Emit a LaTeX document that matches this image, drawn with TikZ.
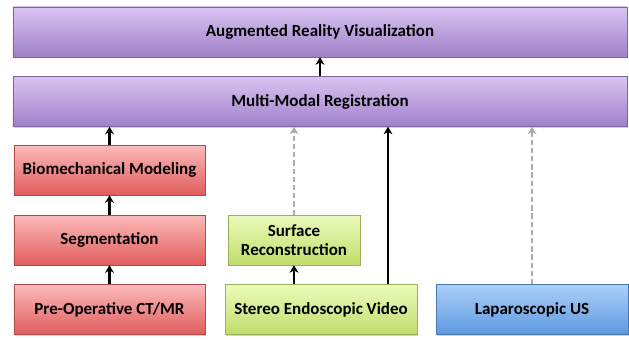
\documentclass[tikz,border=0pt]{standalone}
\usepackage{fontspec}
\setmainfont{Carlito}
\usetikzlibrary{arrows.meta,shadows}
\definecolor{purpTop}{RGB}{216,196,242}
\definecolor{purpBot}{RGB}{160,128,200}
\definecolor{redTop}{RGB}{252,186,186}
\definecolor{redBot}{RGB}{224,92,92}
\definecolor{grnTop}{RGB}{236,250,186}
\definecolor{grnBot}{RGB}{192,222,108}
\definecolor{bluTop}{RGB}{172,208,248}
\definecolor{bluBot}{RGB}{92,152,224}
\begin{document}
\begin{tikzpicture}[x=0.03cm,y=-0.03cm,
    box/.style={rectangle,minimum height=1.5cm,inner sep=2pt,font=\fontsize{14.5}{16}\selectfont\bfseries,
        align=center,drop shadow={shadow xshift=0.6pt,shadow yshift=-1.2pt,opacity=0.35}},
    purpbox/.style={box,top color=purpTop,bottom color=purpBot,draw=purpBot!80!black,line width=0.3pt},
    redbox/.style={box,top color=redTop,bottom color=redBot,draw=redBot!80!black,line width=0.3pt,minimum width=5.73cm},
    grnbox/.style={box,top color=grnTop,bottom color=grnBot,draw=grnBot!80!black,line width=0.3pt},
    blubox/.style={box,top color=bluTop,bottom color=bluBot,draw=bluBot!80!black,line width=0.3pt,minimum width=5.76cm},
    flow/.style={-{Stealth[length=6.5pt,width=7.5pt]},line width=2pt,black},
    flowgray/.style={flow,gray!65,line width=2.3pt,dash pattern=on 4.5pt off 2.5pt}]
\useasboundingbox (0,0) rectangle (629,339);
% top rows
\node[purpbox,minimum width=18.42cm] (arv) at (320,32) {Augmented Reality Visualization};
\node[purpbox,minimum width=18.42cm] (mmr) at (320,101.5) {Multi-Modal Registration};
% pre-operative column
\node[redbox] (bio) at (109.5,170) {Biomechanical Modeling};
\node[redbox] (seg) at (109.5,240) {Segmentation};
\node[redbox] (ctmr) at (109.5,309.5) {Pre-Operative CT/MR};
% intra-operative
\node[grnbox,minimum width=3.96cm] (surf) at (294,240) {Surface\\Reconstruction};
\node[grnbox,minimum width=5.76cm] (stereo) at (321,309.5) {Stereo Endoscopic Video};
\node[blubox] (lus) at (532,309.5) {Laparoscopic US};
% arrows
\draw[flow] (mmr.north) -- (arv.south);
\draw[flow] (ctmr.north) -- (seg.south);
\draw[flow] (seg.north) -- (bio.south);
\draw[flow] (bio.north) -- (bio.north |- mmr.south);
\draw[flow] (stereo.north -| surf.north) -- (surf.south);
\draw[flowgray] (surf.north) -- (surf.north |- mmr.south);
\draw[flow] ([xshift=2.01cm]stereo.north) -- ([xshift=2.01cm]stereo.north |- mmr.south);
\draw[flowgray] (lus.north) -- (lus.north |- mmr.south);
\end{tikzpicture}
\end{document}
